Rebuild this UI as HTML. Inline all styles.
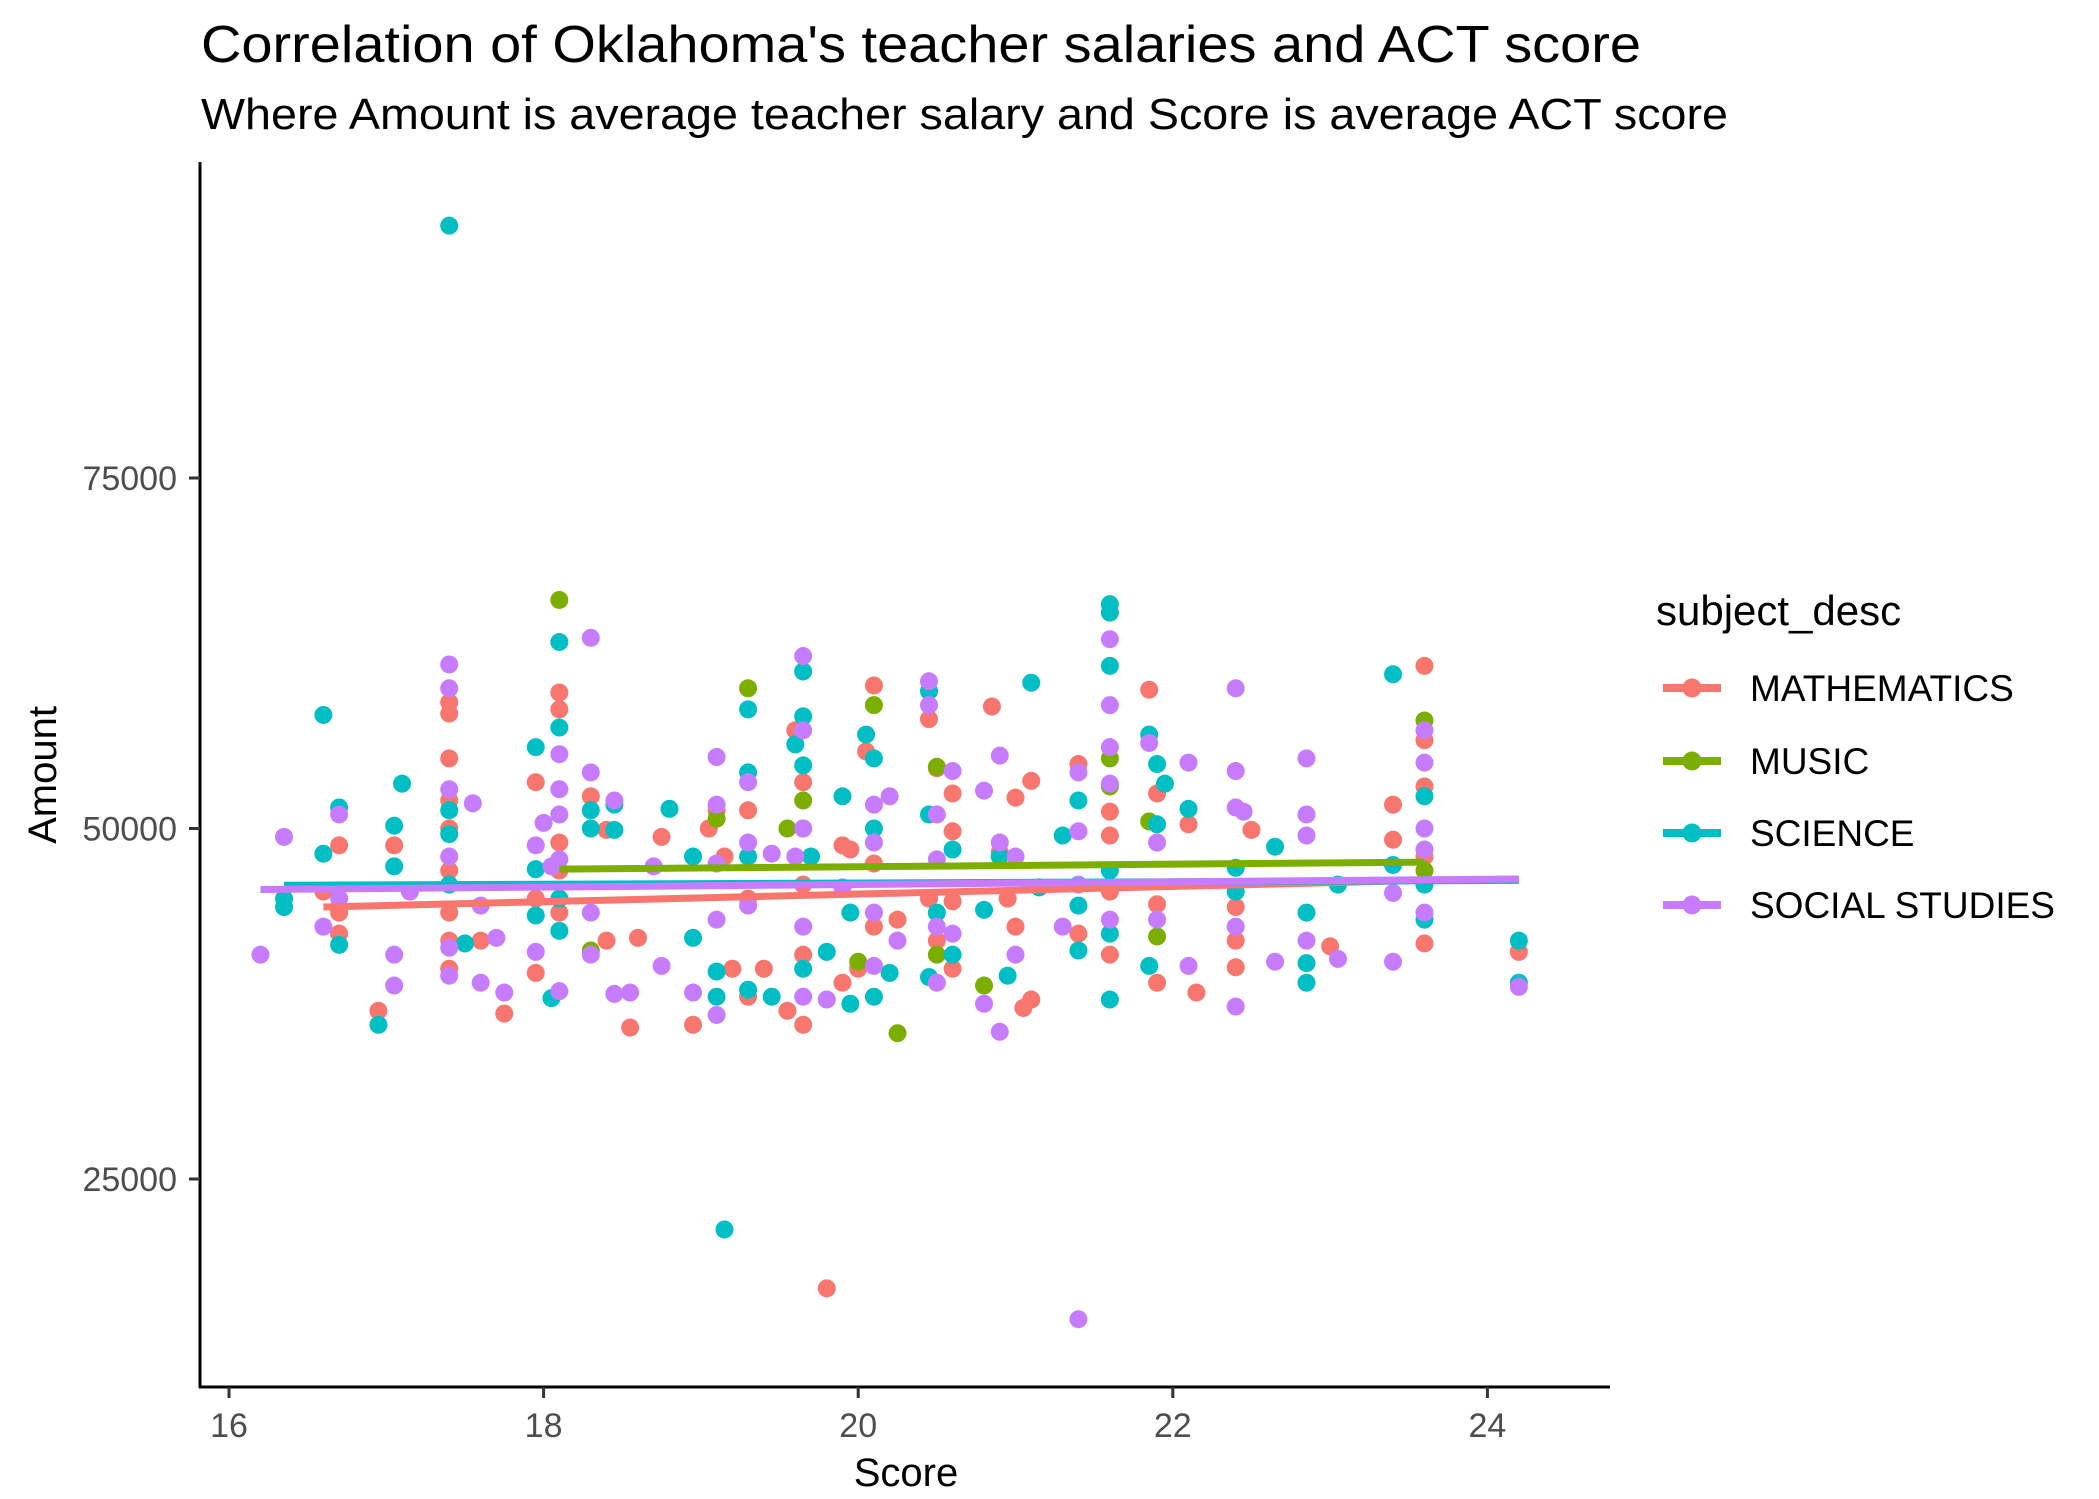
<!DOCTYPE html>
<html><head><meta charset="utf-8"><style>
html,body{margin:0;padding:0;background:#fff;}
svg{display:block;font-family:"Liberation Sans",Arial,sans-serif;}
</style></head><body>
<svg id="chart" width="2099" height="1499" viewBox="0 0 2099 1499">
<text x="201" y="62" font-size="52" textLength="1440" lengthAdjust="spacingAndGlyphs" fill="#000">Correlation of Oklahoma's teacher salaries and ACT score</text>
<text x="201" y="129" font-size="44" textLength="1527" lengthAdjust="spacingAndGlyphs" fill="#000">Where Amount is average teacher salary and Score is average ACT score</text>
<g id="points"></g>
<g id="lines"></g>
<g id="axes"></g>
<text x="906" y="1486" font-size="40" text-anchor="middle" fill="#000">Score</text>
<text transform="translate(56,775) rotate(-90)" font-size="40" text-anchor="middle" fill="#000">Amount</text>
<text x="1656" y="625" font-size="42" fill="#000">subject_desc</text>
<g id="legend"></g>
</svg>
<script>
const categories = ["MATHEMATICS","MUSIC","SCIENCE","SOCIAL STUDIES"];
const colors = ["#F8766D","#7CAE00","#00BFC4","#C77CFF"];
const xTicks = [16,18,20,22,24];
const yTicks = [25000,50000,75000];
const mathPts = [[16.6,45500],[16.7,48800],[16.7,42500],[16.7,44000],[16.95,37000],[17.05,48800],[17.4,59000],[17.4,58200],[17.4,55000],[17.4,52000],[17.4,50000],[17.4,47000],[17.4,44000],[17.4,42000],[17.4,40000],[17.6,42000],[17.75,36800],[17.95,53300],[17.95,39700],[17.95,45000],[18.1,59700],[18.1,58500],[18.1,49000],[18.1,47000],[18.1,44000],[18.3,52300],[18.4,49900],[18.4,42000],[18.6,42200],[18.55,35800],[18.75,49400],[18.95,36000],[19.1,51300],[19.05,50000],[19.15,48000],[19.2,40000],[19.3,51300],[19.3,45000],[19.3,38000],[19.4,40000],[19.6,57000],[19.65,53300],[19.65,50000],[19.65,46000],[19.65,41000],[19.65,36000],[19.55,37000],[19.8,17200],[19.9,48800],[19.95,48500],[19.9,39000],[20.1,60200],[20.05,55500],[20.1,47500],[20.1,43000],[20.0,40000],[20.25,43500],[20.45,57800],[20.5,54300],[20.45,45000],[20.5,42000],[20.6,52500],[20.6,49800],[20.6,44800],[20.6,40000],[20.85,58700],[20.9,48300],[20.95,45000],[21.0,52200],[21.0,43000],[21.05,37200],[21.1,53400],[21.1,37800],[21.4,54600],[21.4,42500],[21.6,51200],[21.6,49500],[21.6,45500],[21.6,41000],[21.85,59900],[21.9,52500],[21.9,44600],[21.9,39000],[22.1,50300],[22.15,38300],[22.4,44400],[22.4,42000],[22.4,40100],[22.5,49900],[23.0,41600],[23.4,51700],[23.4,49200],[23.6,61600],[23.6,56300],[23.6,53000],[23.6,48000],[23.6,41800],[24.2,41200]];
const musicPts = [[18.1,66300],[18.3,41300],[19.1,50700],[19.3,60000],[19.55,50000],[19.65,52000],[20.0,40500],[20.1,58800],[20.25,35400],[20.5,54400],[20.5,41000],[20.8,38800],[21.6,53000],[21.6,55000],[21.85,50500],[21.9,42300],[23.6,57700],[23.6,47000]];
const sciencePts = [[16.35,44400],[16.35,45000],[16.6,58100],[16.6,48200],[16.7,51500],[16.7,41700],[16.95,36000],[17.05,50200],[17.05,47300],[17.1,53200],[17.4,93000],[17.4,51300],[17.4,49600],[17.4,46000],[17.5,41800],[17.95,55800],[17.95,47100],[17.95,43800],[18.05,37900],[18.1,63300],[18.1,57200],[18.1,45000],[18.1,42700],[18.3,51300],[18.3,50000],[18.45,49900],[18.45,51700],[18.8,51400],[18.95,48000],[18.95,42200],[19.1,39800],[19.1,38000],[19.15,21400],[19.3,58500],[19.3,54000],[19.3,48000],[19.3,38500],[19.45,38000],[19.6,56000],[19.65,61200],[19.65,58000],[19.65,54500],[19.7,48000],[19.65,40000],[19.8,41200],[19.9,52300],[19.95,44000],[19.95,37500],[20.05,56700],[20.1,55000],[20.1,50000],[20.1,38000],[20.2,39700],[20.45,59800],[20.45,51000],[20.5,44000],[20.45,39400],[20.6,48500],[20.6,41000],[20.8,44200],[20.9,48000],[20.95,39500],[21.1,60400],[21.15,45800],[21.3,49500],[21.4,52000],[21.4,44500],[21.4,41300],[21.6,66000],[21.6,65400],[21.6,61600],[21.6,47000],[21.6,42500],[21.6,37800],[21.85,56700],[21.9,54600],[21.9,50300],[21.85,40200],[21.95,53200],[22.1,51400],[22.4,47200],[22.4,45500],[22.65,48700],[22.85,44000],[22.85,40400],[22.85,39000],[23.05,46000],[23.4,61000],[23.4,47400],[23.6,52300],[23.6,46000],[23.6,43500],[24.2,42000],[24.2,39000]];
const socialPts = [[16.2,41000],[16.35,49400],[16.6,43000],[16.7,51000],[16.7,45000],[17.05,41000],[17.05,38800],[17.15,45500],[17.4,61700],[17.4,60000],[17.4,52800],[17.4,48000],[17.4,41500],[17.4,39500],[17.55,51800],[17.6,44500],[17.6,39000],[17.7,42200],[17.75,38300],[17.95,48800],[18.0,50400],[17.95,41200],[18.05,47300],[18.1,55300],[18.1,52800],[18.1,51000],[18.1,47800],[18.1,38400],[18.3,63600],[18.3,54000],[18.3,41000],[18.3,44000],[18.45,52000],[18.45,38200],[18.55,38300],[18.7,47300],[18.75,40200],[18.95,38300],[19.1,55100],[19.1,51700],[19.1,47500],[19.1,43500],[19.1,36700],[19.3,53300],[19.3,49000],[19.3,44500],[19.45,48200],[19.6,48000],[19.65,62300],[19.65,57000],[19.65,50000],[19.65,43000],[19.65,38000],[19.8,37800],[19.9,45800],[20.1,51700],[20.1,49000],[20.1,44000],[20.1,40200],[20.2,52300],[20.25,42000],[20.45,60500],[20.45,58800],[20.5,51000],[20.5,47800],[20.5,43000],[20.5,39000],[20.6,54100],[20.6,42500],[20.8,52700],[20.8,37500],[20.9,55200],[20.9,49000],[20.9,35500],[21.0,48000],[21.0,41000],[21.3,43000],[21.4,54000],[21.4,49800],[21.4,46000],[21.4,15000],[21.6,63500],[21.6,58800],[21.6,55800],[21.6,53200],[21.6,43500],[21.85,56100],[21.9,49000],[21.9,43500],[22.1,54700],[22.1,40200],[22.4,60000],[22.4,54100],[22.4,51500],[22.4,43000],[22.4,37300],[22.45,51200],[22.65,40500],[22.85,55000],[22.85,51000],[22.85,49500],[22.85,42000],[23.05,40700],[23.4,45400],[23.4,40500],[23.6,57000],[23.6,54700],[23.6,50000],[23.6,48500],[23.6,44000],[24.2,38700]];
const fitX0 = [16.6,18.1,16.35,16.2];
const fitX1 = [23.6,23.6,24.2,24.2];
const fitY0 = [44400,47100,45950,45650];
const fitY1 = [46300,47600,46300,46400];

const NS="http://www.w3.org/2000/svg";
function xs(v){return 229+(v-16)*157.3;}
function ys(v){return 478+(75000-v)/25000*350.5;}
function mk(tag,attrs,parent){const e=document.createElementNS(NS,tag);for(const k in attrs)e.setAttribute(k,attrs[k]);parent.appendChild(e);return e;}
const allPts=[mathPts,musicPts,sciencePts,socialPts];
const pg=document.getElementById('points');
allPts.forEach((arr,si)=>{arr.forEach(p=>{
  const c=mk('circle',{cx:xs(p[0]),cy:ys(p[1]),r:9,fill:colors[si]},pg);
  
  
});});
const lg=document.getElementById('lines');
categories.forEach((c,i)=>{
  const l=mk('line',{x1:xs(fitX0[i]),y1:ys(fitY0[i]),x2:xs(fitX1[i]),y2:ys(fitY1[i]),stroke:colors[i],'stroke-width':7},lg);
  
  
});
const ag=document.getElementById('axes');
const ya=mk('line',{x1:200,y1:162,x2:200,y2:1388,stroke:'#000','stroke-width':3},ag);


const xa=mk('line',{x1:199,y1:1387,x2:1610,y2:1387,stroke:'#000','stroke-width':3},ag);


xTicks.forEach(t=>{
  const tk=mk('line',{x1:xs(t),y1:1387,x2:xs(t),y2:1398,stroke:'#333','stroke-width':3},ag);
  
  
  const tx=mk('text',{x:xs(t),y:1437,'font-size':34,'text-anchor':'middle',fill:'#4d4d4d'},ag);
  tx.textContent=t;
  
  
});
yTicks.forEach(t=>{
  const tk=mk('line',{x1:189,y1:ys(t),x2:200,y2:ys(t),stroke:'#333','stroke-width':3},ag);
  
  
  const tx=mk('text',{x:177,y:ys(t)+12,'font-size':34,'text-anchor':'end',fill:'#4d4d4d'},ag);
  tx.textContent=t;
  
  
});
const leg=document.getElementById('legend');
const legY=[688,761,833,905];
categories.forEach((c,i)=>{
  const g=mk('g',{},leg);
  
  
  mk('line',{x1:1663,y1:legY[i],x2:1721,y2:legY[i],stroke:colors[i],'stroke-width':8},g);
  mk('circle',{cx:1692,cy:legY[i],r:9.5,fill:colors[i]},g);
  const t=mk('text',{x:1750,y:legY[i]+13,'font-size':37,fill:'#000'},g);
  t.textContent=c;
});
</script>
</body></html>
